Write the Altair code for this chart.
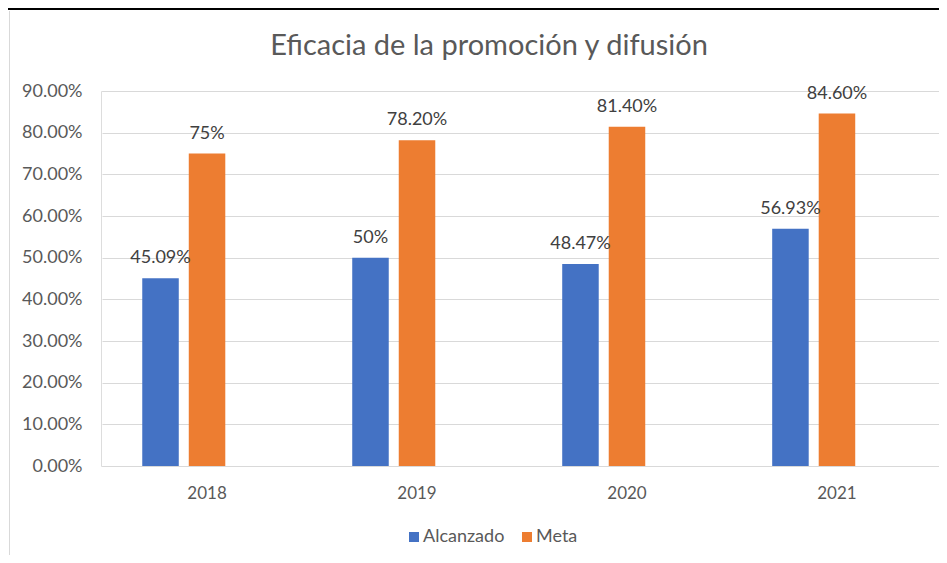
import altair as alt
import pandas as pd

years = ["2018", "2019", "2020", "2021"]
alcanzado = [45.09, 50, 48.47, 56.93]
meta = [75, 78.2, 81.4, 84.6]
alcanzado_labels = ["45.09%", "50%", "48.47%", "56.93%"]
meta_labels = ["75%", "78.20%", "81.40%", "84.60%"]
series = ["Alcanzado", "Meta"]
colors = ["#4472C4", "#ED7D31"]
y_ticks = [0, 0.1, 0.2, 0.3, 0.4, 0.5, 0.6, 0.7, 0.8, 0.9]

rows = []
for i, y in enumerate(years):
    rows.append({"Año": y, "Serie": "Alcanzado", "Valor": alcanzado[i] / 100, "Etiqueta": alcanzado_labels[i]})
    rows.append({"Año": y, "Serie": "Meta", "Valor": meta[i] / 100, "Etiqueta": meta_labels[i]})
df = pd.DataFrame(rows)

FONT = "Lato"

x_enc = alt.X(
    "Año:N",
    sort=years,
    scale=alt.Scale(range=[1, 841], paddingInner=0.383, paddingOuter=0.1917),
    axis=alt.Axis(title=None, ticks=False, domain=False, labelAngle=0,
                  labelBaseline="alphabetic", labelPadding=32,
                  labelFont=FONT, labelFontSize=17, labelColor="#595959"),
)
xoff_enc = alt.XOffset(
    "Serie:N",
    scale=alt.Scale(domain=["Alcanzado", "Meta", "Vacío"], paddingInner=0.215, paddingOuter=0),
)
y_enc = alt.Y(
    "Valor:Q",
    scale=alt.Scale(domain=[0, 0.9], nice=False),
    axis=alt.Axis(title=None, values=y_ticks, format=".2%", ticks=False, domain=False,
                  labelPadding=19, labelFont=FONT, labelFontSize=18, labelColor="#595959",
                  gridColor="#d9d9d9", gridWidth=1),
)

base = alt.Chart(df).encode(x=x_enc, xOffset=xoff_enc)

bars = base.mark_bar().encode(
    y=y_enc,
    color=alt.Color(
        "Serie:N",
        scale=alt.Scale(domain=series, range=colors),
        legend=alt.Legend(title=None, orient="none", direction="horizontal",
                          legendX=304, legendY=437, padding=0,
                          symbolType="square", symbolSize=100, symbolStrokeWidth=0,
                          labelFont=FONT, labelFontSize=18, labelColor="#595959",
                          labelOffset=0, columnPadding=13),
    ),
)

labels = base.mark_text(baseline="alphabetic", dy=-15, font=FONT, fontSize=18, color="#404040").encode(
    y=alt.Y("Valor:Q"),
    text="Etiqueta:N",
)

deco = pd.DataFrame({"k": [0]})
top_line = alt.Chart(deco).mark_rule(color="black", strokeWidth=2).encode(
    x=alt.value(-93), x2=alt.value(846), y=alt.value(-82)
)
left_line = alt.Chart(deco).mark_rule(color="#d9d9d9", strokeWidth=1).encode(
    x=alt.value(-91.5), y=alt.value(-80), y2=alt.value(470)
)

chart = alt.layer(top_line, left_line, bars, labels).properties(
    width=838,
    height=375,
    padding={"left": 93, "top": 83, "right": 0, "bottom": 89},
    autosize=alt.AutoSizeParams(type="none"),
    title=alt.TitleParams(
        text="Eficacia de la promoción y difusión",
        font=FONT, fontSize=29, fontWeight="normal", color="#595959",
        anchor="middle", frame="group", dx=-31, baseline="alphabetic", offset=-76,
    ),
).configure_view(stroke=None).configure(background="white")

chart.save("out.html", embed_options={"renderer": "svg", "actions": False})
